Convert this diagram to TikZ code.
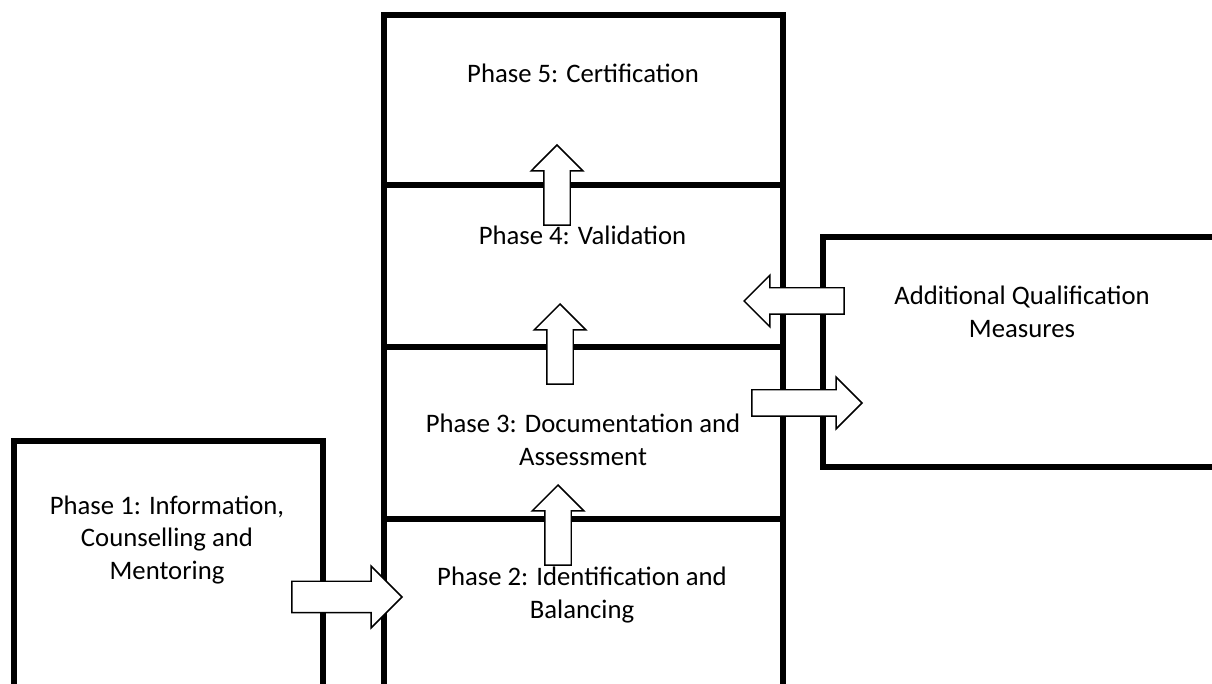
\documentclass[tikz,border=0pt]{standalone}
\usepackage{fontspec}
\setmainfont{Carlito}
\usetikzlibrary{positioning, shapes.arrows}

\begin{document}
\begin{tikzpicture}[
  phase/.style={draw=black, line width=2.9pt, minimum width=7.98cm,
                inner sep=0pt, outer sep=0pt},
  sidebox/.style={draw=black, line width=2.9pt, inner sep=0pt, outer sep=0pt},
  blockarrow/.style={single arrow, draw=black, fill=white, line width=0.85pt,
                     inner sep=0.25cm, single arrow head extend=0.25cm,
                     single arrow tip angle=90, anchor=tip},
  txt/.style={font=\fontsize{15.2}{18.7}\selectfont, align=center, text=black},
]

% Canvas
\useasboundingbox (0,0) rectangle (24.24,13.68);
\fill[white] (0,0) rectangle (24.24,13.68);
\clip (0,0) rectangle (24.24,13.68);

% ============ Phase column ============
\node[phase, minimum height=3.40cm, anchor=north west] (p5) at (7.68,13.38) {};
\node[phase, minimum height=3.24cm, below=0pt of p5] (p4) {};
\node[phase, minimum height=3.44cm, below=0pt of p4] (p3) {};
\node[phase, minimum height=3.80cm, below=0pt of p3] (p2) {};

% ============ Side boxes ============
\node[sidebox, minimum width=6.18cm, minimum height=5.40cm, anchor=north west] (p1) at (0.28,4.86) {};
\node[sidebox, minimum width=9.00cm, minimum height=4.60cm, anchor=north west] (aqm) at (16.46,8.94) {};

% Block arrows
\node[blockarrow, rotate=90, minimum height=1.6cm] (a45) at (11.14,10.80) {};
\node[blockarrow, rotate=90, minimum height=1.6cm] (a34) at (11.20,7.62) {};
\node[blockarrow, rotate=90, minimum height=1.6cm] (a23) at (11.16,4.00) {};
\node[blockarrow, rotate=180, minimum height=2.0cm] (aback) at (14.86,7.66) {};
\node[blockarrow, minimum height=2.2cm] (aout) at (17.26,5.62) {};
\node[blockarrow, inner sep=0.3cm, single arrow head extend=0.3cm,
      minimum height=2.2cm] (ain) at (8.06,1.74) {};

% Labels
\node[txt] (l5) at (11.66,12.22) {Phase 5: Certification};
\node[txt] (l4) at (11.65,8.98) {Phase 4: Validation};
\node[txt] (l3) at (11.66,4.89) {Phase 3: Documentation and\\Assessment};
\node[txt] (l2) at (11.64,1.78) {Phase 2: Identification and\\Balancing};
\node[txt] (l1) at (3.34,2.88) {Phase 1: Information,\\Counselling and\\Mentoring};
\node[txt] (la) at (20.44,7.44) {Additional Qualification\\Measures};

\end{tikzpicture}
\end{document}
